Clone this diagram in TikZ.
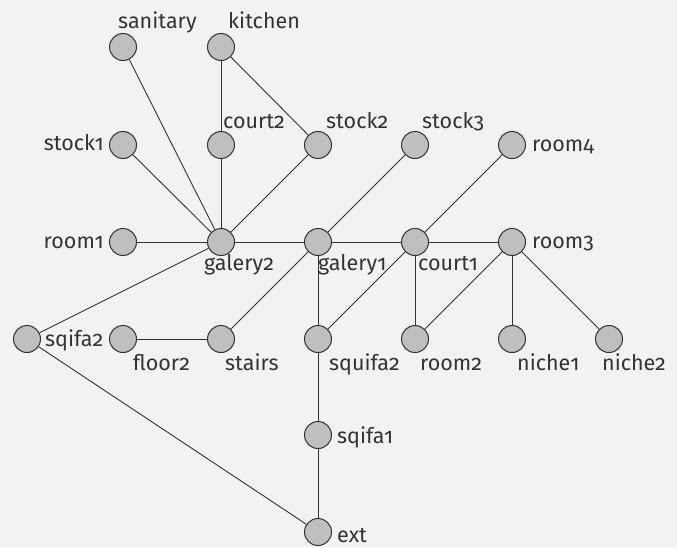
\documentclass[tikz,border=0pt]{standalone}
\usepackage{fontspec}
\setmainfont{Fira Sans}[Numbers=OldStyle]
\definecolor{bg}{HTML}{F2F2F2}
\definecolor{nodefill}{HTML}{BEBFC1}
\definecolor{ink}{HTML}{333333}
\begin{document}
\begin{tikzpicture}[x=1pt,y=-1pt,
  room/.style={circle,draw=ink,fill=nodefill,line width=1pt,minimum size=27pt,inner sep=0pt},
  lbl/.style={inner sep=0pt,text=ink,font=\fontsize{21.5}{25}\selectfont},
  edge/.style={draw=ink,line width=0.9pt}]
\fill[bg] (0,0) rectangle (677,547);
\useasboundingbox (0,0) rectangle (677,547);
% nodes
\node[room] (sanitary) at (123,47) {};
\node[room] (kitchen) at (221,47) {};
\node[room] (stock1) at (123,145) {};
\node[room] (court2) at (221,145) {};
\node[room] (stock2) at (318,145) {};
\node[room] (stock3) at (415,145) {};
\node[room] (room4) at (512,145) {};
\node[room] (room1) at (123,242) {};
\node[room] (galery2) at (221,242) {};
\node[room] (galery1) at (318,242) {};
\node[room] (court1) at (415,242) {};
\node[room] (room3) at (512,242) {};
\node[room] (sqifa2) at (27,339) {};
\node[room] (floor2) at (123,339) {};
\node[room] (stairs) at (221,339) {};
\node[room] (squifa2) at (318,339) {};
\node[room] (room2) at (415,339) {};
\node[room] (niche1) at (512,339) {};
\node[room] (niche2) at (609,339) {};
\node[room] (sqifa1) at (318,435) {};
\node[room] (ext) at (318,532) {};
% edges
\path[edge] (sanitary) -- (galery2);
\path[edge] (kitchen) -- (court2);
\path[edge] (court2) -- (galery2);
\path[edge] (kitchen) -- (stock2);
\path[edge] (stock1) -- (galery2);
\path[edge] (stock2) -- (galery2);
\path[edge] (room1) -- (galery2);
\path[edge] (galery2) -- (galery1);
\path[edge] (galery2) -- (sqifa2);
\path[edge] (galery1) -- (stock3);
\path[edge] (galery1) -- (stairs);
\path[edge] (galery1) -- (squifa2);
\path[edge] (galery1) -- (court1);
\path[edge] (court1) -- (room4);
\path[edge] (court1) -- (room3);
\path[edge] (court1) -- (squifa2);
\path[edge] (court1) -- (room2);
\path[edge] (room3) -- (room2);
\path[edge] (room3) -- (niche1);
\path[edge] (room3) -- (niche2);
\path[edge] (floor2) -- (stairs);
\path[edge] (sqifa2) -- (ext);
\path[edge] (squifa2) -- (sqifa1);
\path[edge] (sqifa1) -- (ext);
% labels
\node[lbl,anchor=base west] (l-sanitary) at (118,28) {sanitary};
\node[lbl,anchor=base west] (l-kitchen) at (228,28) {kitchen};
\node[lbl,anchor=base west] (l-court2) at (223,128) {court2};
\node[lbl,anchor=base west] (l-stock2) at (326,128) {stock2};
\node[lbl,anchor=base west] (l-stock3) at (422,128) {stock3};
\node[lbl,anchor=base west] (l-room4) at (532,151) {room4};
\node[lbl,anchor=base east] (l-stock1) at (104,150) {stock1};
\node[lbl,anchor=base east] (l-room1) at (104,248) {room1};
\node[lbl,anchor=base west] (l-galery2) at (204,270) {galery2};
\node[lbl,anchor=base west] (l-galery1) at (318,270) {galery1};
\node[lbl,anchor=base west] (l-court1) at (418,270) {court1};
\node[lbl,anchor=base west] (l-room3) at (532,248) {room3};
\node[lbl,anchor=base west] (l-sqifa2) at (45,346) {sqifa2};
\node[lbl,anchor=base west] (l-floor2) at (133,370) {floor2};
\node[lbl,anchor=base west] (l-stairs) at (225,370) {stairs};
\node[lbl,anchor=base west] (l-squifa2) at (329,370) {squifa2};
\node[lbl,anchor=base west] (l-room2) at (420,370) {room2};
\node[lbl,anchor=base west] (l-niche1) at (517,370) {niche1};
\node[lbl,anchor=base west] (l-niche2) at (602,370) {niche2};
\node[lbl,anchor=base west] (l-sqifa1) at (337,443) {sqifa1};
\node[lbl,anchor=base west] (l-ext) at (337,542) {ext};
\end{tikzpicture}
\end{document}
